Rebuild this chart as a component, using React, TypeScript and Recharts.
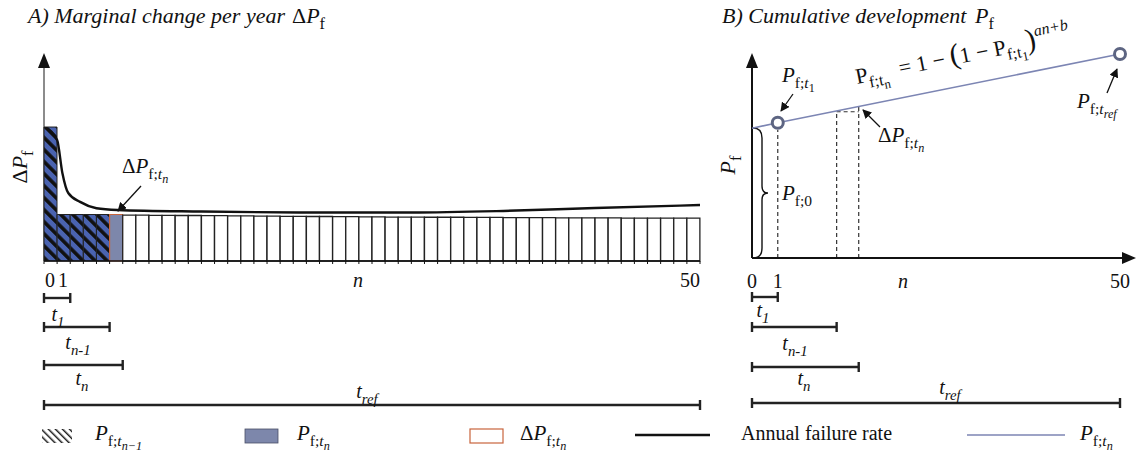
import React from "react";
import {
  ComposedChart,
  Bar,
  Line,
  XAxis,
  YAxis,
  ReferenceLine,
  Customized,
} from "recharts";

const SERIF = "'Liberation Serif', 'Times New Roman', serif";

// ---- panel A: marginal change per year (arbitrary units 0-100) ----
const YEAR_DP = [
  68, 23.6, 23.6, 23.6, 23.6, 23.6, 23.3, 23.3, 23.2, 23.2, 23.1, 23.1, 23.0,
  23.0, 22.9, 22.9, 22.8, 22.8, 22.7, 22.7, 22.6, 22.6, 22.5, 22.5, 22.4, 22.4,
  22.3, 22.3, 22.3, 22.2, 22.2, 22.2, 22.1, 22.1, 22.1, 22.0, 22.0, 22.0, 22.0,
  21.9, 21.9, 21.9, 21.9, 21.9, 21.8, 21.8, 21.8, 21.8, 21.8, 21.8,
];
const N_CURRENT = 6; // year t_n
const RATE_N = [0.15, 1, 1.4, 1.85, 2.75, 4, 5.6, 12, 20, 28, 35, 42, 50];
const RATE_V = [67.5, 61.4, 44.7, 34.5, 30.0, 26.8, 25.9, 25.1, 24.6, 24.6, 25.4, 26.9, 28.4];
const A_TICK_LABELS: Record<number, string> = { 0: "0", 1: "1", 50: "50" };
const A_SPAN_ENDS = [2, 5, 6, 50];

// ---- panel B: cumulative development (schematic positions on 0-50) ----
const B_LINE = [
  { n: 0, p: 63.6 },
  { n: 3.5, p: 66.3 },
  { n: 50, p: 100 },
];
const B_TICKS = [0, 3.5, 50];
const B_TICK_LABELS: Record<number, string> = { 0: "0", 3.5: "1", 50: "50" };
const B_MARK_N = [3.5, 11.5, 14.5];
const B_MARK_TOP = [62.7, 71.7, 74.2];
const B_SPAN_ENDS = [3.5, 11.5, 14.5, 50];

const yearRows = YEAR_DP.map((v, i) => ({
  year: i + 1,
  hatch: i < N_CURRENT - 1 ? v : 0,
  cur: i === N_CURRENT - 1 ? v : 0,
  rest: i >= N_CURRENT ? v : 0,
}));
const rateRows = RATE_N.map((n, i) => ({ n, rate: RATE_V[i] }));
const aTicks = Array.from({ length: 51 }, (_, i) => i);

const W = 1137;
const H = 454;
const A_W = 720;
const A_M = { top: 64, right: 20, bottom: 163, left: 44 };
const B_X = 700;
const B_W = 437;
const B_M = { top: 54, right: 17, bottom: 166, left: 52 };
const ax = (n: number) => A_M.left + (n / 50) * (A_W - A_M.left - A_M.right);
const bx = (n: number) => B_M.left + (n / 50) * (B_W - B_M.left - B_M.right);

const BLUE = "#4a63b0";
const SLATE = "#7d87ab";
const ORANGE = "#c8643c";
const LINE_B = "#7c85b3";
const NB = "\u00a0";

type Seg = { s: string; i?: boolean; l?: number; z?: number };
const LVL_DY: Record<number, number> = { [-1]: -0.55, 0: 0, 1: 0.28, 2: 0.46 };
const LVL_SZ: Record<number, number> = { [-1]: 0.72, 0: 1, 1: 0.74, 2: 0.58 };

function MathText({ x, y, segs, size = 20, anchor = "start", angle = 0 }: any) {
  let prev = 0;
  return (
    <text
      x={x}
      y={y}
      fontSize={size}
      fontFamily={SERIF}
      textAnchor={anchor}
      fill="#111"
      transform={angle ? `rotate(${angle} ${x} ${y})` : undefined}
    >
      {(segs as Seg[]).map((g, k) => {
        const l = g.l ?? 0;
        const dy = (LVL_DY[l] - LVL_DY[prev]) * size;
        prev = l;
        return (
          <tspan
            key={k}
            dy={dy}
            fontSize={size * LVL_SZ[l] * (g.z ?? 1)}
            fontStyle={g.i ? "italic" : "normal"}
          >
            {g.s}
          </tspan>
        );
      })}
    </text>
  );
}

const P_F: Seg[] = [{ s: "P", i: true }, { s: "f", l: 1 }];
const DP_F: Seg[] = [{ s: "Δ" }, ...P_F];
const P_TN: Seg[] = [
  { s: "P", i: true },
  { s: "f;", l: 1 },
  { s: "t", i: true, l: 1 },
  { s: "n", i: true, l: 2 },
];
const DP_TN: Seg[] = [{ s: "Δ" }, ...P_TN];
const P_TN1: Seg[] = [
  { s: "P", i: true },
  { s: "f;", l: 1 },
  { s: "t", i: true, l: 1 },
  { s: "n−1", i: true, l: 2 },
];
const P_T1: Seg[] = [
  { s: "P", i: true },
  { s: "f;", l: 1 },
  { s: "t", i: true, l: 1 },
  { s: "1", l: 2 },
];
const P_TREF: Seg[] = [
  { s: "P", i: true },
  { s: "f;", l: 1 },
  { s: "t", i: true, l: 1 },
  { s: "ref", i: true, l: 2 },
];
const P_F0: Seg[] = [{ s: "P", i: true }, { s: "f;0", l: 1 }];
const FORMULA: Seg[] = [
  { s: "P" },
  { s: "f;", l: 1 },
  { s: "t", l: 1 },
  { s: "n", l: 2 },
  { s: `${NB}${NB}=${NB}1${NB}−${NB}` },
  { s: "(", z: 1.35 },
  { s: `1${NB}−${NB}P` },
  { s: "f;", l: 1 },
  { s: "t", l: 1 },
  { s: "1", l: 2 },
  { s: ")", z: 1.35 },
  { s: "an+b", i: true, l: -1 },
];
const T1: Seg[] = [{ s: "t", i: true }, { s: "1", i: true, l: 1 }];
const TN1: Seg[] = [{ s: "t", i: true }, { s: "n-1", i: true, l: 1 }];
const TN: Seg[] = [{ s: "t", i: true }, { s: "n", i: true, l: 1 }];
const TREF: Seg[] = [{ s: "t", i: true }, { s: "ref", i: true, l: 1 }];
const SPAN_LABELS = [T1, TN1, TN, TREF];

const Span = ({ x1, x2, y }: any) => (
  <g stroke="#222" strokeWidth={2.4}>
    <line x1={x1} y1={y} x2={x2} y2={y} />
    <line x1={x1} y1={y - 5} x2={x1} y2={y + 5} />
    <line x1={x2} y1={y - 5} x2={x2} y2={y + 5} />
  </g>
);

// layout of bracket rows
const A_ROW_Y = [298, 327, 365, 405];
const A_LBL = [
  { x: 58, y: 321 },
  { x: 78, y: 349 },
  { x: 82, y: 385 },
  { x: 367, y: 398 },
];
const B_ROW_Y = [297, 327, 367, 403];
const B_LBL = [
  { x: 63, y: 317 },
  { x: 95, y: 350 },
  { x: 104, y: 385 },
  { x: 250, y: 394 },
];

const ATick = (props: any) => {
  const { x, y, payload } = props;
  const lbl = A_TICK_LABELS[payload.value];
  if (!lbl) return <g />;
  const end = payload.value === 50;
  return (
    <text
      x={end ? x : x + 1}
      y={y + 21}
      textAnchor={end ? "end" : "start"}
      fontSize={20}
      fontFamily={SERIF}
      fill="#111"
    >
      {lbl}
    </text>
  );
};

const BTick = (props: any) => {
  const { x, y, payload } = props;
  const lbl = B_TICK_LABELS[payload.value];
  if (!lbl) return <g />;
  return (
    <text x={x} y={y + 30} textAnchor="middle" fontSize={20} fontFamily={SERIF} fill="#111">
      {lbl}
    </text>
  );
};

const BDot = (props: any) => {
  const { cx, cy, index } = props;
  if (index === 0) return <g key={`d${index}`} />;
  return (
    <circle key={`d${index}`} cx={cx} cy={cy} r={5.5} fill="#fff" stroke="#5d6582" strokeWidth={3} />
  );
};

const AnnotA = () => (
  <g>
    <line x1={44} y1={66} x2={44} y2={261} stroke="#666" strokeWidth={1.5} />
    <polygon points="44,53 38,68 50,68" fill="#111" />
    <MathText x={27} y={167} segs={DP_F} anchor="middle" angle={-90} size={22} />
    <MathText x={122} y={173} segs={DP_TN} size={21} />
    <line x1={141} y1={186} x2={118} y2={211} stroke="#111" strokeWidth={1.3} markerEnd="url(#arrowHead)" />
    <text x={358} y={287} fontStyle="italic" fontSize={20} fontFamily={SERIF} textAnchor="middle" fill="#111">
      n
    </text>
    {A_SPAN_ENDS.map((e, i) => (
      <Span key={i} x1={ax(0)} x2={ax(e)} y={A_ROW_Y[i]} />
    ))}
    {SPAN_LABELS.map((s, i) => (
      <MathText key={i} x={A_LBL[i].x} y={A_LBL[i].y} segs={s} anchor="middle" size={20} />
    ))}
  </g>
);

const AnnotB = () => (
  <g>
    <line x1={52} y1={66} x2={52} y2={258} stroke="#111" strokeWidth={2} />
    <polygon points="52,53 46,68 58,68" fill="#111" />
    <line x1={bx(50)} y1={258} x2={425} y2={258} stroke="#111" strokeWidth={2} />
    <polygon points="436,258 422,252 422,264" fill="#111" />
    <MathText x={35} y={165} segs={P_F} anchor="middle" angle={-90} size={22} />
    <path
      d="M53,128 Q62,128 62,138 L62,186 Q62,193 68,193 Q62,193 62,200 L62,248 Q62,258 53,258"
      fill="none"
      stroke="#111"
      strokeWidth={1.4}
    />
    <MathText x={82} y={200} segs={P_F0} size={21} />
    <MathText x={82} y={82} segs={P_T1} size={21} />
    <line x1={93} y1={94} x2={81} y2={111} stroke="#111" strokeWidth={1.3} markerEnd="url(#arrowHead)" />
    <MathText x={157} y={84} segs={FORMULA} size={22} angle={-11.3} />
    <MathText x={178} y={142} segs={DP_TN} size={21} />
    <line x1={180} y1={127} x2={163} y2={110} stroke="#111" strokeWidth={1.3} markerEnd="url(#arrowHead)" />
    <MathText x={377} y={108} segs={P_TREF} size={21} />
    <line x1={407} y1={93} x2={417} y2={69} stroke="#111" strokeWidth={1.3} markerEnd="url(#arrowHead)" />
    <text x={203} y={288} fontStyle="italic" fontSize={20} fontFamily={SERIF} textAnchor="middle" fill="#111">
      n
    </text>
    {B_SPAN_ENDS.map((e, i) => (
      <Span key={i} x1={bx(0)} x2={bx(e)} y={B_ROW_Y[i]} />
    ))}
    {SPAN_LABELS.map((s, i) => (
      <MathText key={i} x={B_LBL[i].x} y={B_LBL[i].y} segs={s} anchor="middle" size={20} />
    ))}
  </g>
);

export default function App() {
  return (
    <div style={{ position: "absolute", left: 0, top: 0, width: W, height: H, background: "#fff" }}>
      <svg width={0} height={0} style={{ position: "absolute" }}>
        <defs>
          <pattern id="hatchBlue" patternUnits="userSpaceOnUse" width={8.5} height={8.5} patternTransform="rotate(-45)">
            <rect width={8.5} height={8.5} fill={BLUE} />
            <rect width={3.6} height={8.5} fill="#111" />
          </pattern>
          <pattern id="hatchLegend" patternUnits="userSpaceOnUse" width={5} height={5} patternTransform="rotate(-45)">
            <rect width={5} height={5} fill="#fff" />
            <rect width={1.5} height={5} fill="#222" />
          </pattern>
          <marker id="arrowHead" viewBox="0 0 10 10" refX={9} refY={5} markerWidth={7} markerHeight={7} orient="auto">
            <path d="M0,0 L10,5 L0,10 z" fill="#111" />
          </marker>
        </defs>
      </svg>

      <div style={{ position: "absolute", left: 0, top: 0 }}>
        <ComposedChart width={A_W} height={H} data={yearRows} margin={A_M} barCategoryGap={0} barGap={0}>
          <XAxis
            xAxisId="n"
            dataKey="n"
            type="number"
            domain={[0, 50]}
            ticks={aTicks}
            interval={0}
            tickSize={3}
            tickMargin={2}
            height={30}
            axisLine={{ stroke: "#111", strokeWidth: 1.5 }}
            tickLine={{ stroke: "#111" }}
            tick={<ATick />}
          />
          <XAxis xAxisId="bars" dataKey="year" type="category" hide height={0} />
          <YAxis domain={[0, 100]} width={0} tick={false} tickLine={false} axisLine={false} />
          <Bar xAxisId="bars" dataKey="hatch" stackId="s" fill="url(#hatchBlue)" stroke="#222" strokeWidth={1} isAnimationActive={false} />
          <Bar xAxisId="bars" dataKey="cur" stackId="s" fill={SLATE} stroke={ORANGE} strokeWidth={1.2} isAnimationActive={false} />
          <Bar xAxisId="bars" dataKey="rest" stackId="s" fill="#fff" stroke="#222" strokeWidth={1.3} isAnimationActive={false} />
          <Line
            xAxisId="n"
            data={rateRows}
            dataKey="rate"
            type="monotone"
            stroke="#111"
            strokeWidth={2.4}
            dot={false}
            isAnimationActive={false}
          />
          <Customized component={<AnnotA />} />
        </ComposedChart>
      </div>

      <div style={{ position: "absolute", left: B_X, top: 0 }}>
        <ComposedChart width={B_W} height={H} data={B_LINE} margin={B_M}>
          <XAxis
            dataKey="n"
            type="number"
            domain={[0, 50]}
            ticks={B_TICKS}
            interval={0}
            tickSize={0}
            tickMargin={0}
            height={30}
            axisLine={{ stroke: "#111", strokeWidth: 2 }}
            tickLine={false}
            tick={<BTick />}
          />
          <YAxis domain={[0, 100]} width={0} tick={false} tickLine={false} axisLine={false} />
          {B_MARK_N.map((n, i) => (
            <ReferenceLine
              key={`v${i}`}
              segment={[
                { x: n, y: 0 },
                { x: n, y: B_MARK_TOP[i] },
              ]}
              stroke="#333"
              strokeWidth={1.2}
              strokeDasharray="4 3"
            />
          ))}
          <ReferenceLine
            segment={[
              { x: B_MARK_N[1], y: B_MARK_TOP[1] },
              { x: B_MARK_N[2], y: B_MARK_TOP[1] },
            ]}
            stroke="#333"
            strokeWidth={1.2}
            strokeDasharray="4 3"
          />
          <Line dataKey="p" type="linear" stroke={LINE_B} strokeWidth={1.6} dot={<BDot />} isAnimationActive={false} />
          <Customized component={<AnnotB />} />
        </ComposedChart>
      </div>

      <svg width={W} height={H} style={{ position: "absolute", left: 0, top: 0, pointerEvents: "none" }}>
        <text x={28} y={23} fontSize={22} fontStyle="italic" fontFamily={SERIF} fill="#111">
          A) Marginal change per year
        </text>
        <MathText x={292} y={23} segs={DP_F} size={22} />
        <text x={722} y={23} fontSize={22} fontStyle="italic" fontFamily={SERIF} fill="#111">
          B) Cumulative development
        </text>
        <MathText x={975} y={23} segs={P_F} size={22} />

        <rect x={42} y={429} width={30} height={14} fill="url(#hatchLegend)" />
        <MathText x={95} y={440} segs={P_TN1} size={21} />
        <rect x={245} y={429} width={33} height={14} fill={SLATE} stroke="#4a4f66" strokeWidth={0.8} />
        <MathText x={297} y={440} segs={P_TN} size={21} />
        <rect x={470} y={429} width={33} height={14} fill="#fff" stroke={ORANGE} strokeWidth={1.2} />
        <MathText x={520} y={440} segs={DP_TN} size={21} />
        <line x1={635} y1={435} x2={710} y2={435} stroke="#111" strokeWidth={2.4} />
        <text x={741} y={440} fontSize={20} fontFamily={SERIF} fill="#111">
          Annual failure rate
        </text>
        <line x1={967} y1={435} x2={1065} y2={435} stroke={LINE_B} strokeWidth={1.6} />
        <MathText x={1080} y={440} segs={P_TN} size={21} />
      </svg>
    </div>
  );
}
